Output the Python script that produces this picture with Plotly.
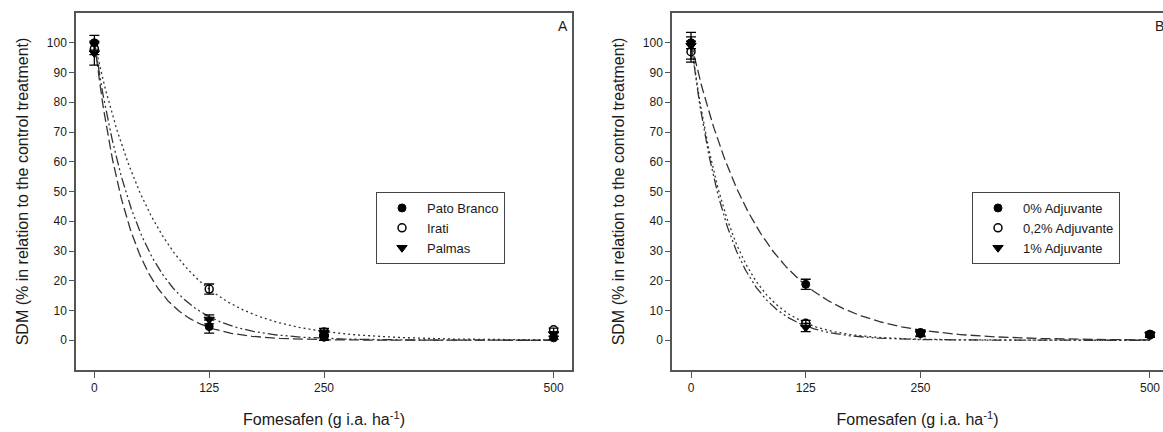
import numpy as np
import plotly.graph_objects as go

# ---------------- data ----------------
doses = [0, 125, 250, 500]

# Panel A (locations)
a_names = ["Pato Branco", "Irati", "Palmas"]
a_pato = [100.0, 4.6, 1.0, 0.8]
a_pato_err = [2.5, 2.2, 1.0, 0.5]
a_irati = [98.0, 17.2, 2.8, 3.5]
a_irati_err = [2.0, 1.7, 1.2, 0.6]
a_palmas = [96.5, 7.0, 2.5, 2.0]
a_palmas_err = [4.0, 1.5, 1.3, 0.6]
# fitted exponential decay y = a*exp(-b*x)
a_fit_a = [100.0, 100.0, 100.0]
a_fit_b = [0.0252, 0.0141, 0.0203]

# Panel B (adjuvant)
b_names = ["0% Adjuvante", "0,2% Adjuvante", "1% Adjuvante"]
b_0 = [100.0, 18.8, 2.3, 2.1]
b_0_err = [2.0, 1.7, 1.0, 0.6]
b_02 = [97.0, 5.7, 2.5, 1.8]
b_02_err = [3.5, 1.0, 1.0, 0.8]
b_1 = [99.0, 4.3, 2.2, 1.8]
b_1_err = [4.5, 1.4, 1.0, 0.8]
b_fit_a = [100.0, 100.0, 100.0]
b_fit_b = [0.0135, 0.0228, 0.0243]

x_ticks = [0, 125, 250, 500]
y_ticks = list(range(0, 101, 10))

# ---------------- styles ----------------
FONT = "Liberation Sans, Arial, sans-serif"
TXT = "#1a1a1a"
markers = [
    dict(symbol="circle", color="black", size=8, line=dict(color="black", width=1)),
    dict(symbol="circle-open", color="black", size=8, line=dict(color="black", width=1.5)),
    dict(symbol="triangle-down", color="black", size=9, line=dict(color="black", width=1)),
]
a_dash = ["10px,4px", "2px,3px", "10px,3px,2px,3px,2px,3px"]
b_dash = ["10px,4px", "2px,3px", "10px,3px,2px,3px,2px,3px"]

fig = go.Figure()
xs = np.linspace(0, 500, 400)


def add_panel(xa, ya, legend, names, vals, errs, fa, fb, dashes):
    for i in range(3):
        fig.add_trace(go.Scatter(
            x=xs, y=fa[i] * np.exp(-fb[i] * xs), mode="lines",
            line=dict(color="#333333", width=1.3, dash=dashes[i]),
            xaxis=xa, yaxis=ya, showlegend=False, hoverinfo="skip"))
    for i in range(3):
        fig.add_trace(go.Scatter(
            x=doses, y=vals[i], mode="markers", name=names[i],
            marker=markers[i],
            error_y=dict(type="data", array=errs[i], color="black",
                         thickness=1.3, width=5),
            xaxis=xa, yaxis=ya, legend=legend))


add_panel("x", "y", "legend", a_names, [a_pato, a_irati, a_palmas],
          [a_pato_err, a_irati_err, a_palmas_err], a_fit_a, a_fit_b, a_dash)
add_panel("x2", "y2", "legend2", b_names, [b_0, b_02, b_1],
          [b_0_err, b_02_err, b_1_err], b_fit_a, b_fit_b, b_dash)

L, R, T, B = 76, 0, 13, 62
W, H = 1163, 432
pw = W - L - R
dA = [0, (572 - L) / pw]
dB = [(672 - L) / pw, 1.0]

tickfont = dict(family=FONT, size=12, color=TXT)
axis_common = dict(showgrid=False, zeroline=False, showline=True,
                   linecolor="#555555", linewidth=1.5, ticks="outside",
                   tickcolor="#555555", tickfont=tickfont)

xtitle = dict(text="Fomesafen (g i.a. ha<sup>-1</sup>)",
              font=dict(family=FONT, size=16, color=TXT), standoff=20)
ytitle = dict(text="SDM (% in relation to the control treatment)",
              font=dict(family=FONT, size=16, color=TXT), standoff=14)

legend_style = dict(xanchor="left", yanchor="top", bordercolor="#444444",
                    borderwidth=1, bgcolor="white",
                    font=dict(family=FONT, size=13, color=TXT),
                    itemwidth=40, tracegroupgap=0)

fig.update_layout(
    width=W, height=H,
    margin=dict(l=L, r=R, t=T, b=B),
    paper_bgcolor="white", plot_bgcolor="white",
    font=dict(family=FONT, color=TXT),
    xaxis=dict(domain=dA, range=[-20, 520], tickvals=x_ticks, ticklen=6,
               mirror=True, title=xtitle, anchor="y", **axis_common),
    yaxis=dict(domain=[0, 1], range=[-10, 110], tickvals=y_ticks, ticklen=5,
               mirror=True, title=ytitle, anchor="x", **axis_common),
    xaxis2=dict(domain=dB, range=[-20.7, 514.2], tickvals=x_ticks, ticklen=6,
                mirror=True, title=xtitle, anchor="y2", **axis_common),
    yaxis2=dict(domain=[0, 1], range=[-10, 110], tickvals=y_ticks, ticklen=5,
                mirror=False, title=ytitle, anchor="x2", **axis_common),
    legend=dict(x=(376 - L) / pw, y=(370 - 192) / (H - T - B), **legend_style),
    legend2=dict(x=(972 - L) / pw, y=(370 - 192) / (H - T - B), **legend_style),
    annotations=[
        dict(text="A", x=510, y=105.6, xref="x", yref="y", showarrow=False,
             font=dict(family=FONT, size=14, color=TXT)),
        dict(text="B", x=510, y=105.6, xref="x2", yref="y2", showarrow=False,
             font=dict(family=FONT, size=14, color=TXT)),
    ],
)

fig.write_html("out.html")
